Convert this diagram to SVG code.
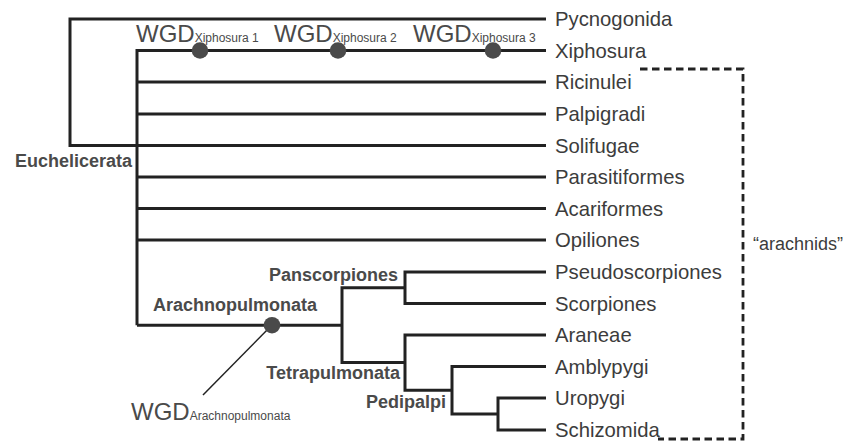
<svg xmlns="http://www.w3.org/2000/svg" width="845" height="443" viewBox="0 0 845 443">
<style>
.br{fill:none;stroke:#222;stroke-width:3;stroke-linejoin:miter;stroke-linecap:butt}
.tx{font-family:"Liberation Sans",Arial,sans-serif;font-size:20.3px;fill:#3c3c3c}
.cl{font-family:"Liberation Sans",Arial,sans-serif;font-size:18px;font-weight:bold;fill:#4a4a4a}
.wg{font-family:"Liberation Sans",Arial,sans-serif;font-size:24px;fill:#4a4a4a}
.sb{font-size:12px}
.dot{fill:#4a4a4a}
.dash{fill:none;stroke:#222;stroke-width:2.8;stroke-dasharray:7.5 4.5}
</style>
<rect width="845" height="443" fill="#fff"/>
<g id="connectors">
<path class="br" d="M546,19 H70 V145.5 H137"/>
<path class="br" d="M546,50.5 H137 V325.2"/>
<path class="br" d="M137,82 H546 M137,114 H546 M137,145.5 H546 M137,177 H546 M137,208.5 H546 M137,240 H546"/>
<path class="br" d="M137,325.2 H342"/>
<path class="br" d="M405,287.75 H342 V362.6 H405"/>
<path class="br" d="M546,272 H405 V303.5 H546"/>
<path class="br" d="M546,335 H405 V390.25 H452"/>
<path class="br" d="M546,366.5 H452 V414 H498"/>
<path class="br" d="M546,398 H498 V430 H546"/>
<line x1="272" y1="325" x2="203" y2="395" stroke="#222" stroke-width="1.5"/>
<path class="dash" d="M640,69 H743 V439 H658"/>
</g>
<g id="wgd-xiphosura-1"><circle class="dot" cx="200" cy="50.5" r="8.3"/><text class="wg" x="136" y="42">WGD<tspan class="sb">Xiphosura 1</tspan></text></g>
<g id="wgd-xiphosura-2"><circle class="dot" cx="338" cy="50.5" r="8.3"/><text class="wg" x="274" y="42">WGD<tspan class="sb">Xiphosura 2</tspan></text></g>
<g id="wgd-xiphosura-3"><circle class="dot" cx="493" cy="50.5" r="8.3"/><text class="wg" x="413" y="42">WGD<tspan class="sb">Xiphosura 3</tspan></text></g>
<g id="wgd-arachnopulmonata"><circle class="dot" cx="272" cy="325.2" r="8.3"/><text class="wg" x="131" y="420">WGD<tspan class="sb">Arachnopulmonata</tspan></text></g>
<g id="euchelicerata"><text class="cl" x="132" y="167" text-anchor="end">Euchelicerata</text></g>
<g id="arachnopulmonata"><text class="cl" x="317" y="311" text-anchor="end">Arachnopulmonata</text></g>
<g id="panscorpiones"><text class="cl" x="398" y="281" text-anchor="end">Panscorpiones</text></g>
<g id="tetrapulmonata"><text class="cl" x="400" y="379" text-anchor="end">Tetrapulmonata</text></g>
<g id="pedipalpi"><text class="cl" x="446" y="408" text-anchor="end">Pedipalpi</text></g>
<g id="pycnogonida"><text class="tx" x="555" y="26">Pycnogonida</text></g>
<g id="xiphosura"><text class="tx" x="555" y="57.5">Xiphosura</text></g>
<g id="ricinulei"><text class="tx" x="555" y="89">Ricinulei</text></g>
<g id="palpigradi"><text class="tx" x="555" y="121">Palpigradi</text></g>
<g id="solifugae"><text class="tx" x="555" y="152.5">Solifugae</text></g>
<g id="parasitiformes"><text class="tx" x="555" y="184">Parasitiformes</text></g>
<g id="acariformes"><text class="tx" x="555" y="215.5">Acariformes</text></g>
<g id="opiliones"><text class="tx" x="555" y="247">Opiliones</text></g>
<g id="pseudoscorpiones"><text class="tx" x="555" y="279">Pseudoscorpiones</text></g>
<g id="scorpiones"><text class="tx" x="555" y="310.5">Scorpiones</text></g>
<g id="araneae"><text class="tx" x="555" y="342">Araneae</text></g>
<g id="amblypygi"><text class="tx" x="555" y="373.5">Amblypygi</text></g>
<g id="uropygi"><text class="tx" x="555" y="405">Uropygi</text></g>
<g id="schizomida"><text class="tx" x="555" y="437">Schizomida</text></g>
<g id="arachnids"><text class="tx" x="753" y="250" style="font-size:18px">“arachnids”</text></g>
</svg>
